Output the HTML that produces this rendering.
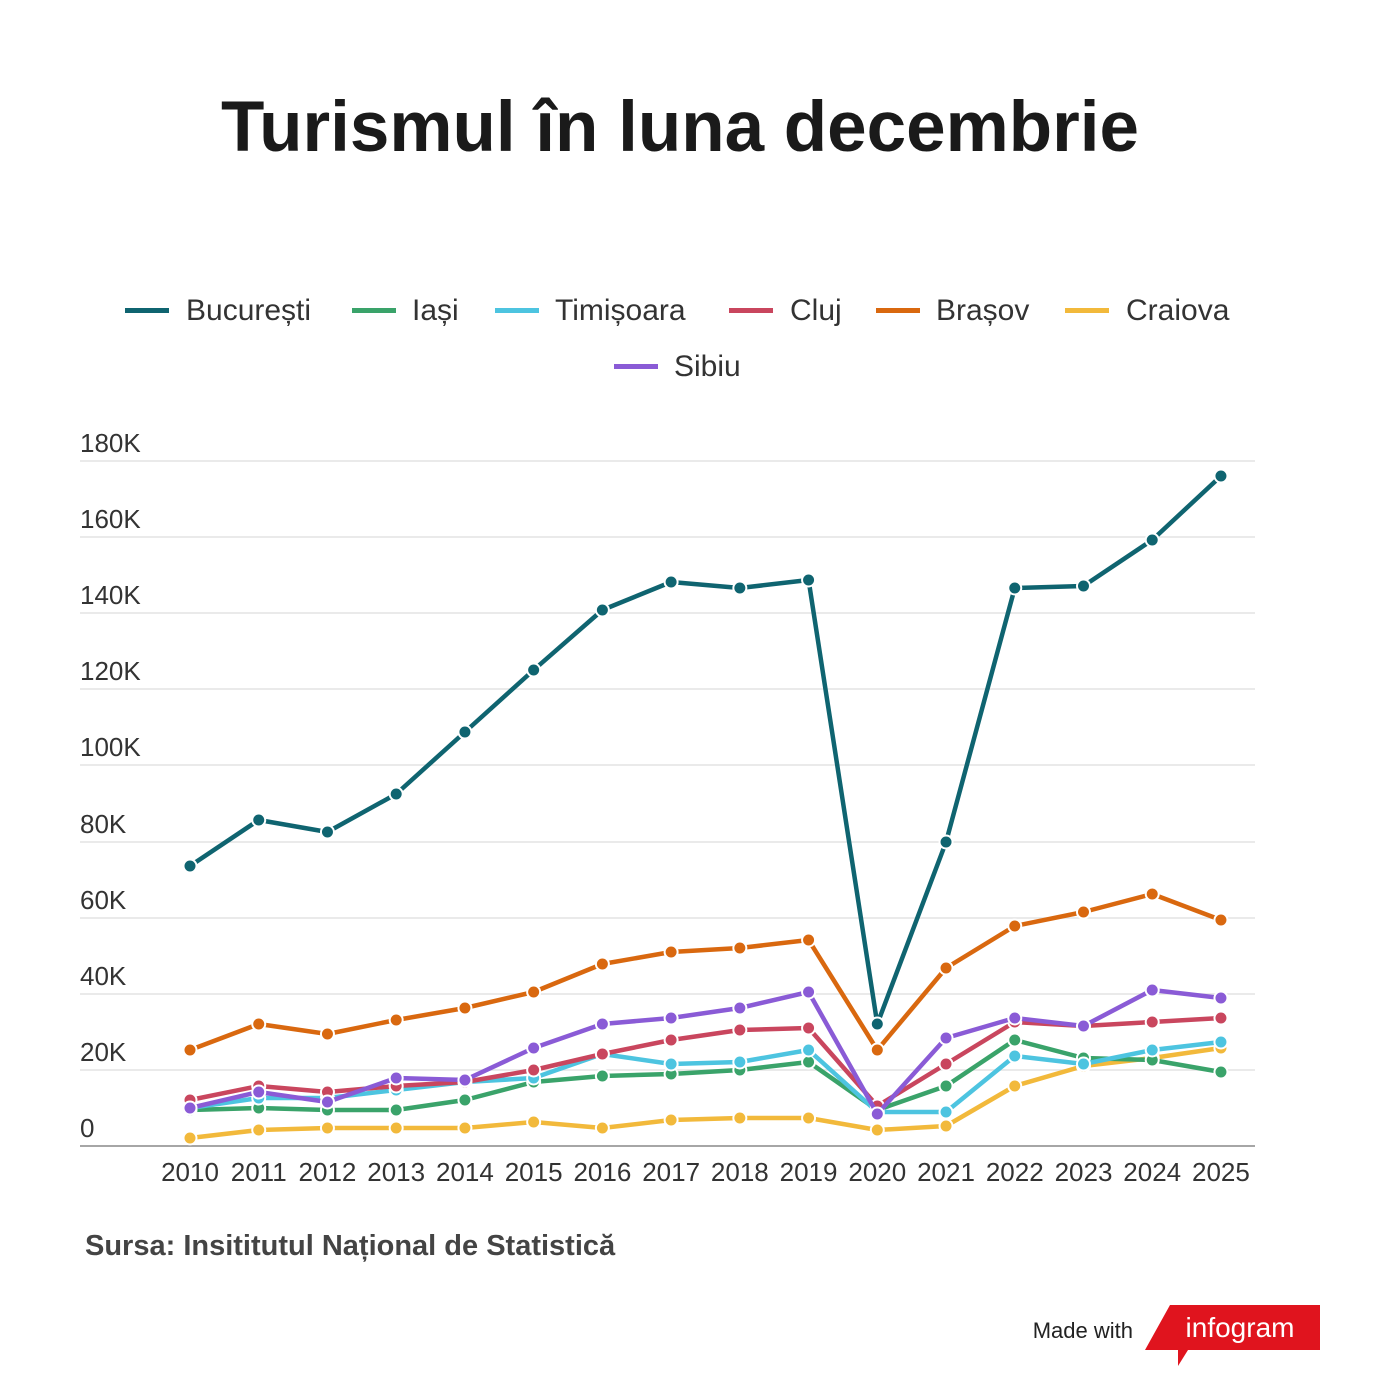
<!DOCTYPE html>
<html><head><meta charset="utf-8"><style>
body{margin:0;background:#fff;}
svg text{font-family:"Liberation Sans",sans-serif;}
</style></head><body>
<svg width="1374" height="1388" viewBox="0 0 1374 1388" xmlns="http://www.w3.org/2000/svg">
<rect width="1374" height="1388" fill="#fff"/>
<text x="680" y="151" text-anchor="middle" font-size="71" font-weight="bold" fill="#1a1a1a">Turismul în luna decembrie</text>
<g font-size="30" fill="#333">
<rect x="125" y="308" width="44" height="5" fill="#0f6470"/><text x="186" y="320">București</text>
<rect x="352" y="308" width="44" height="5" fill="#3aa36a"/><text x="412" y="320">Iași</text>
<rect x="495" y="308" width="44" height="5" fill="#4dc4e0"/><text x="555" y="320">Timișoara</text>
<rect x="729" y="308" width="44" height="5" fill="#c9465e"/><text x="790" y="320">Cluj</text>
<rect x="876" y="308" width="44" height="5" fill="#d9680f"/><text x="936" y="320">Brașov</text>
<rect x="1065" y="308" width="44" height="5" fill="#f2b93b"/><text x="1126" y="320">Craiova</text>
<rect x="614" y="364" width="44" height="5" fill="#8a5bd6"/><text x="674" y="376">Sibiu</text>
</g>
<g stroke="#e3e3e3" stroke-width="1.5">
<line x1="80" x2="1255" y1="461" y2="461"/><line x1="80" x2="1255" y1="537" y2="537"/>
<line x1="80" x2="1255" y1="613" y2="613"/><line x1="80" x2="1255" y1="689" y2="689"/>
<line x1="80" x2="1255" y1="765" y2="765"/><line x1="80" x2="1255" y1="842" y2="842"/>
<line x1="80" x2="1255" y1="918" y2="918"/><line x1="80" x2="1255" y1="994" y2="994"/>
<line x1="80" x2="1255" y1="1070" y2="1070"/>
</g>
<line x1="80" x2="1255" y1="1146" y2="1146" stroke="#888" stroke-width="1.5"/>
<g font-size="26" fill="#333">
<text x="80" y="452">180K</text><text x="80" y="528">160K</text><text x="80" y="604">140K</text>
<text x="80" y="680">120K</text><text x="80" y="756">100K</text><text x="80" y="833">80K</text>
<text x="80" y="909">60K</text><text x="80" y="985">40K</text><text x="80" y="1061">20K</text>
<text x="80" y="1137">0</text>
</g>
<g font-size="26" fill="#333" text-anchor="middle" id="xl"></g>
<g id="series"></g>
<text x="85" y="1255" font-size="29" font-weight="bold" fill="#444">Sursa: Insititutul Național de Statistică</text>
<text x="1133" y="1338" font-size="22" fill="#222" text-anchor="end">Made with</text>
<polygon points="1170,1305 1320,1305 1320,1350 1188,1350 1178,1366 1178,1350 1145,1350" fill="#e0141e"/>
<text x="1240" y="1337" font-size="28" fill="#fff" text-anchor="middle">infogram</text>
<script>
var xs=[];for(var i=0;i<16;i++)xs.push(190+i*68.73);
var xl=document.getElementById('xl'),ns="http://www.w3.org/2000/svg";
xs.forEach(function(x,i){var t=document.createElementNS(ns,'text');t.setAttribute('x',x);t.setAttribute('y',1181);t.textContent=2010+i;xl.appendChild(t);});
var S=[
["#f2b93b",[1137,1129,1127,1127,1127,1121,1127,1119,1117,1117,1129,1125,1085,1065,1057,1047]],
["#3aa36a",[1109,1107,1109,1109,1099,1081,1075,1073,1069,1061,1109,1085,1039,1057,1059,1071]],
["#4dc4e0",[1107,1097,1097,1089,1081,1077,1053,1063,1061,1049,1111,1111,1055,1063,1049,1041]],
["#c9465e",[1099,1085,1091,1085,1081,1069,1053,1039,1029,1027,1105,1063,1021,1025,1021,1017]],
["#8a5bd6",[1107,1091,1101,1077,1079,1047,1023,1017,1007,991,1113,1037,1017,1025,989,997]],
["#d9680f",[1049,1023,1033,1019,1007,991,963,951,947,939,1049,967,925,911,893,919]],
["#0f6470",[865,819,831,793,731,669,609,581,587,579,1023,841,587,585,539,475]]];
var g=document.getElementById('series');
S.forEach(function(s){var p=document.createElementNS(ns,'polyline');
p.setAttribute('points',s[1].map(function(y,i){return xs[i]+','+(y+1)}).join(' '));
p.setAttribute('fill','none');p.setAttribute('stroke',s[0]);p.setAttribute('stroke-width','4.5');p.setAttribute('stroke-linejoin','round');g.appendChild(p);
s[1].forEach(function(y,i){var c=document.createElementNS(ns,'circle');c.setAttribute('cx',xs[i]);c.setAttribute('cy',y+1);c.setAttribute('r','6.5');c.setAttribute('fill',s[0]);c.setAttribute('stroke','#fff');c.setAttribute('stroke-width','2');g.appendChild(c);});});
</script>
</svg>
</body></html>
